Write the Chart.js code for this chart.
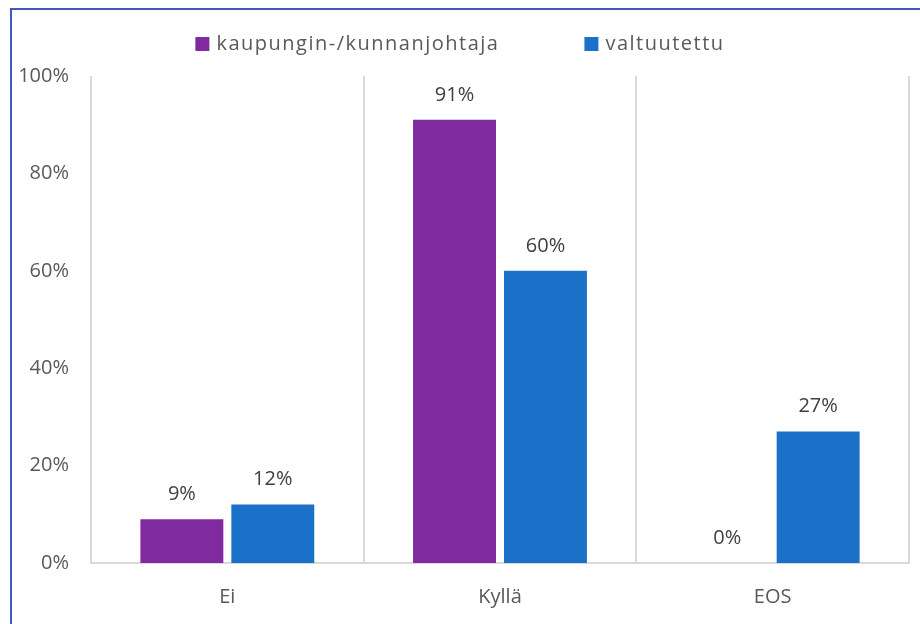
<!DOCTYPE html>
<html>
<head>
<meta charset="utf-8">
<script src="https://cdn.jsdelivr.net/npm/chart.js@4.4.1/dist/chart.umd.min.js"></script>
<style>
  html, body { margin: 0; padding: 0; background: #fff; }
  #wrap { position: relative; width: 920px; height: 624px; overflow: hidden; }
  #frame { position: absolute; left: 10px; top: 8px; width: 930px; height: 640px;
           border: 2px solid #4458c4; pointer-events: none; }
</style>
</head>
<body>
<div id="wrap">
  <canvas id="myChart" width="920" height="624"></canvas>
  <div id="frame"></div>
</div>
<script>
const categories = ['Ei', 'Kyllä', 'EOS'];
const johtaja = [9, 91, 0];
const valtuutettu = [12, 60, 27];
const seriesNames = ['kaupungin-/kunnanjohtaja', 'valtuutettu'];
const yTicks = [0, 20, 40, 60, 80, 100];

const fontFam = '"Open Sans", sans-serif';
const textCol = '#595959';

// labels above the bars
const barLabels = {
  id: 'barLabels',
  afterDatasetsDraw(chart) {
    const ctx = chart.ctx;
    ctx.save();
    ctx.font = '20px ' + fontFam;
    ctx.fillStyle = '#404040';
    ctx.textAlign = 'center';
    ctx.textBaseline = 'middle';
    chart.data.datasets.forEach((ds, i) => {
      chart.getDatasetMeta(i).data.forEach((bar, j) => {
        ctx.fillText(ds.data[j] + '%', bar.x, bar.y - 25);
      });
    });
    ctx.restore();
  }
};

// legend drawn by hand so the gap between items can be wide
const topLegend = {
  id: 'topLegend',
  afterDraw(chart) {
    const ctx = chart.ctx;
    ctx.save();
    ctx.font = '20px ' + fontFam;
    ctx.letterSpacing = '1.5px';
    ctx.textBaseline = 'middle';
    const box = 14, gap = 7, between = 85, y = 44;
    const items = chart.data.datasets.map(ds => ({ text: ds.label, color: ds.backgroundColor }));
    let total = 0;
    items.forEach((it, i) => {
      it.w = box + gap + ctx.measureText(it.text).width;
      total += it.w + (i ? between : 0);
    });
    let x = (chart.width - total) / 2;
    items.forEach(it => {
      ctx.fillStyle = it.color;
      ctx.fillRect(x, y - box / 2, box, box);
      ctx.fillStyle = textCol;
      ctx.fillText(it.text, x + box + gap, y);
      x += it.w + between;
    });
    ctx.restore();
  }
};

const data = {
  labels: categories,
  datasets: [{
      label: seriesNames[0],
      backgroundColor: '#7f2a9e',
      data: johtaja,
      categoryPercentage: 0.667,
      barPercentage: 0.912
    },
    {
      label: seriesNames[1],
      backgroundColor: '#1b70c8',
      data: valtuutettu,
      categoryPercentage: 0.667,
      barPercentage: 0.912
    }
  ]
};

const config = {
  type: 'bar',
  data: data,
  options: {
    responsive: false,
    animation: false,
    layout: { padding: { left: 0, right: 11, top: 76, bottom: 0 } },
    plugins: { legend: { display: false }, tooltip: { enabled: false } },
    scales: {
      x: {
        afterFit(scale) { scale.height = 61; },
        grid: { offset: true, color: '#d9d9d9', lineWidth: 2, drawTicks: false },
        border: { color: '#d9d9d9', width: 2 },
        ticks: { color: textCol, font: { family: fontFam, size: 20 }, padding: 22 }
      },
      y: {
        min: 0, max: 100,
        afterFit(scale) { scale.width = 91; },
        afterBuildTicks(scale) { scale.ticks = yTicks.map(v => ({ value: v })); },
        grid: { display: false },
        border: { display: false },
        ticks: {
          color: textCol, font: { family: fontFam, size: 20 }, padding: 14,
          callback: v => v + '%'
        }
      }
    }
  },
  plugins: [barLabels, topLegend]
};

new Chart(document.getElementById('myChart'), config);
</script>
</body>
</html>
